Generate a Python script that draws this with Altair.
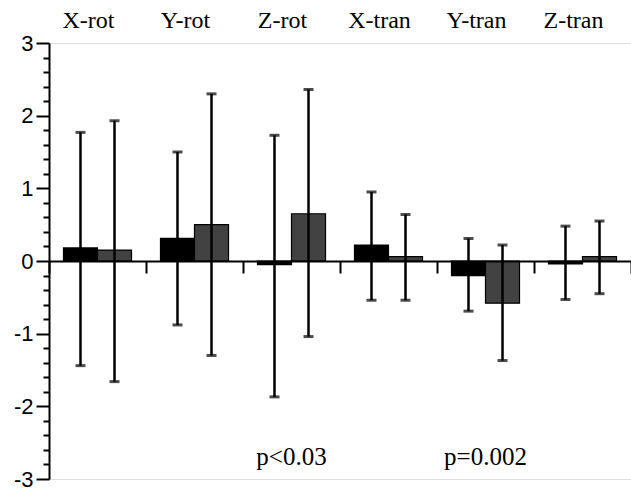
import altair as alt
import pandas as pd

categories = ["X-rot", "Y-rot", "Z-rot", "X-tran", "Y-tran", "Z-tran"]
series_names = ["group 1", "group 2"]

mean_1 = [0.18, 0.31, -0.05, 0.22, -0.20, -0.04]
upper_1 = [1.77, 1.50, 1.73, 0.95, 0.31, 0.48]
lower_1 = [-1.44, -0.88, -1.87, -0.54, -0.69, -0.53]

mean_2 = [0.15, 0.50, 0.65, 0.06, -0.58, 0.06]
upper_2 = [1.93, 2.30, 2.36, 0.64, 0.22, 0.55]
lower_2 = [-1.66, -1.30, -1.04, -0.54, -1.37, -0.45]

p_categories = ["Z-rot", "Y-tran"]
p_texts = ["p<0.03", "p=0.002"]
p_level = -2.81

y_tick_values = [round(-3 + 0.2 * i, 1) for i in range(31)]

rows = []
for i, c in enumerate(categories):
    rows.append(dict(cat=c, series=series_names[0], mean=mean_1[i], lo=lower_1[i], hi=upper_1[i]))
    rows.append(dict(cat=c, series=series_names[1], mean=mean_2[i], lo=lower_2[i], hi=upper_2[i]))
df = pd.DataFrame(rows)
df_labels = pd.DataFrame({"cat": categories, "top": [3] * len(categories)})
df_p = pd.DataFrame({"cat": p_categories, "text": p_texts, "lvl": [p_level] * len(p_categories)})

is_int = "abs(datum.value - round(datum.value)) < 0.001"

x_enc = alt.X(
    "cat:N",
    sort=categories,
    scale=alt.Scale(domain=categories, paddingInner=0, paddingOuter=0),
    axis=alt.Axis(
        orient="bottom", offset=-218, labels=False, title=None,
        tickBand="extent", tickSize=12, tickWidth=2, tickColor="black",
        domainWidth=2, domainColor="black", zindex=1, grid=False,
    ),
)
xoff_enc = alt.XOffset(
    "series:N", sort=series_names,
    scale=alt.Scale(domain=series_names, paddingInner=0, paddingOuter=0.426),
)
y_scale = alt.Scale(domain=[-3, 3], nice=False, zero=False)
y_axis = alt.Axis(
    values=y_tick_values,
    tickSize={"condition": {"test": is_int, "value": 13}, "value": 6},
    labelExpr=is_int + " ? '' + round(datum.value) : ''",
    labelFont="Liberation Sans", labelFontSize=22, labelColor="black",
    labelPadding=3, labelOverlap=False,
    domainColor="black", domainWidth=2, tickColor="black", tickWidth=2,
    grid=False, title=None,
)

bars = alt.Chart(df).mark_bar(stroke="black", strokeWidth=1.2).encode(
    x=x_enc,
    xOffset=xoff_enc,
    y=alt.Y("mean:Q", scale=y_scale, axis=y_axis),
    color=alt.Color("series:N", scale=alt.Scale(domain=series_names, range=["#000000", "#424242"]), legend=None),
)

err = alt.Chart(df).mark_rule(color="black", strokeWidth=2.5).encode(
    x=x_enc, xOffset=xoff_enc,
    y=alt.Y("lo:Q", scale=y_scale, axis=y_axis), y2="hi:Q",
)
cap_hi = alt.Chart(df).mark_tick(color="black", size=10, thickness=3).encode(
    x=x_enc, xOffset=xoff_enc, y=alt.Y("hi:Q", scale=y_scale, axis=y_axis),
)
cap_lo = alt.Chart(df).mark_tick(color="black", size=10, thickness=3).encode(
    x=x_enc, xOffset=xoff_enc, y=alt.Y("lo:Q", scale=y_scale, axis=y_axis),
)

top_labels = alt.Chart(df_labels).mark_text(
    font="Liberation Serif", fontSize=24, baseline="alphabetic", dx=-9, dy=-15, color="black"
).encode(
    x=x_enc, y=alt.Y("top:Q", scale=y_scale, axis=y_axis), text="cat:N",
)

p_labels = alt.Chart(df_p).mark_text(
    font="Liberation Serif", fontSize=25, baseline="alphabetic", color="black"
).encode(
    x=x_enc, y=alt.Y("lvl:Q", scale=y_scale, axis=y_axis), text="text:N",
)

chart = alt.layer(bars, err, cap_hi, cap_lo, top_labels, p_labels).properties(
    width=582, height=436,
    autosize="none",
    padding={"left": 49, "top": 43, "right": 0, "bottom": 13},
).configure_view(stroke=None).configure(background="white")

chart.save("out.html", embed_options={"renderer": "svg", "actions": False})
